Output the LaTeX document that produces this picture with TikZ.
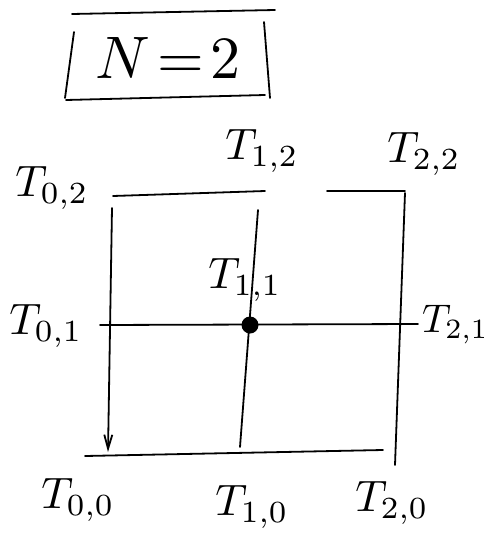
\documentclass[tikz,border=0pt]{standalone}
\usepackage{graphicx}
\usetikzlibrary{arrows.meta}
\begin{document}
\begin{tikzpicture}[x=1pt,y=-1pt,
  pen/.style={line width=1.8pt,line cap=round,line join=round,black},
  lbl/.style={inner sep=0pt}]
\useasboundingbox (0,0) rectangle (490,544);
% N=2 box
\coordinate (b1) at (72,14);  \coordinate (b2) at (275,10);
\coordinate (b3) at (74,32);  \coordinate (b4) at (65,98);
\coordinate (b5) at (66,100); \coordinate (b6) at (265,95);
\coordinate (b7) at (264,22); \coordinate (b8) at (270,98);
\draw[pen] (b1) -- (b2);
\draw[pen] (b3) -- (b4);
\draw[pen] (b5) -- (b6);
\draw[pen] (b7) -- (b8);
\node[lbl] (title) at (168,58) {\scalebox{6}{$N\!=\!2$}};
% grid endpoints
\coordinate (tl1) at (113,196); \coordinate (tl2) at (265,191);
\coordinate (tr1) at (327,191); \coordinate (tr2) at (405,191);
\coordinate (lv1) at (112,208); \coordinate (lv2) at (108,452);
\coordinate (rv1) at (405,193); \coordinate (rv2) at (395,465);
\coordinate (mv1) at (258,210); \coordinate (mv2) at (240,447);
\coordinate (mh1) at (100,325); \coordinate (mh2) at (418,324);
\coordinate (bl1) at (85,456);  \coordinate (bl2) at (383,450);
\draw[pen] (tl1) -- (tl2);
\draw[pen] (tr1) -- (tr2);
\draw[pen,-{Straight Barb[length=14pt,width=8pt]}] (lv1) -- (lv2);
\draw[pen] (rv1) -- (rv2);
\draw[pen] (mv1) -- (mv2);
\draw[pen] (mh1) -- (mh2);
\draw[pen] (bl1) -- (bl2);
\node[circle,fill=black,minimum size=17pt,inner sep=0pt] (dot) at (250,325) {};
% labels
\newcommand{\tlab}[2][4.4]{\scalebox{#1}{$T_{#2}$}}
\node[lbl] (T02) at (52,188) {\tlab{0,2}};
\node[lbl] (T12) at (262,151) {\tlab{1,2}};
\node[lbl] (T22) at (424,154) {\tlab{2,2}};
\node[lbl] (T11) at (245,280) {\tlab{1,1}};
\node[lbl] (T01) at (46,326) {\tlab{0,1}};
\node[lbl,anchor=east] (T21) at (489,325) {\tlab[4.0]{2,1}};
\node[lbl] (T00) at (78,500) {\tlab{0,0}};
\node[lbl] (T10) at (252,507) {\tlab{1,0}};
\node[lbl] (T20) at (392,503) {\tlab{2,0}};
\end{tikzpicture}
\end{document}
